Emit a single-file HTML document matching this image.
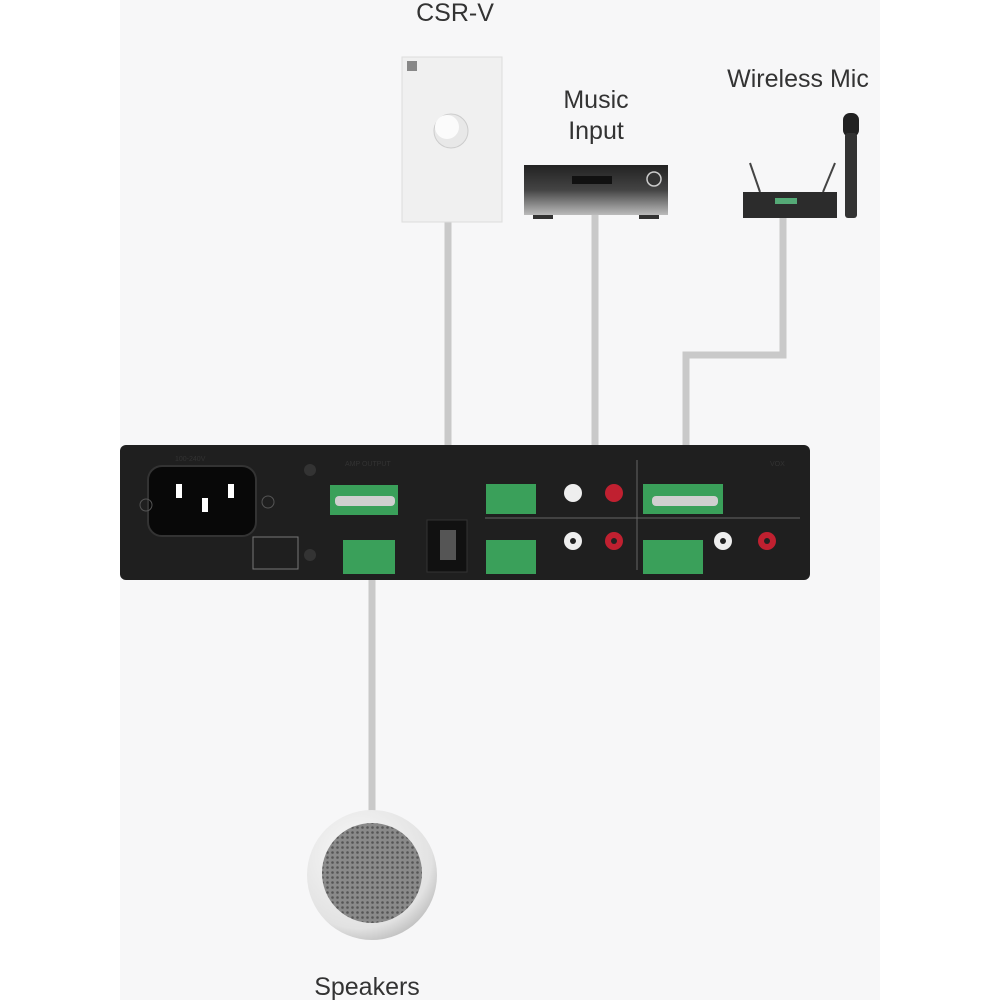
<!DOCTYPE html>
<html><head><meta charset="utf-8"><style>
html,body{margin:0;padding:0;background:#fff;}
svg{display:block;}
text{font-family:"Liberation Sans",sans-serif;fill:#333;}
</style></head><body>
<svg width="1000" height="1000" viewBox="0 0 1000 1000" xmlns="http://www.w3.org/2000/svg">
<defs>
<pattern id="dots" width="5" height="5" patternUnits="userSpaceOnUse"><rect width="5" height="5" fill="#8a8a8a"/><circle cx="2.5" cy="2.5" r="1.3" fill="#555"/></pattern>
<radialGradient id="rim" cx="0.4" cy="0.35" r="0.7"><stop offset="0" stop-color="#fafafa"/><stop offset="0.8" stop-color="#e2e2e2"/><stop offset="1" stop-color="#bdbdbd"/></radialGradient>
<linearGradient id="rcv" x1="0" y1="0" x2="0" y2="1"><stop offset="0" stop-color="#222"/><stop offset="0.5" stop-color="#444"/><stop offset="1" stop-color="#bbb"/></linearGradient>
</defs>
<rect x="120" y="0" width="760" height="1000" fill="#f7f7f8"/>
<text x="455" y="21" font-size="25" text-anchor="middle">CSR-V</text>
<text x="596" y="108" font-size="25" text-anchor="middle">Music</text>
<text x="596" y="139" font-size="25" text-anchor="middle">Input</text>
<text x="798" y="87" font-size="25" text-anchor="middle">Wireless Mic</text>
<text x="367" y="995" font-size="25" text-anchor="middle">Speakers</text>
<!-- cables -->
<g stroke="#c9c9c9" stroke-width="7" fill="none">
<path d="M448 222 V540"/>
<path d="M595 215 V493 H575"/>
<path d="M783 215 V355 H686 V500"/>
<path d="M372 500 V815"/>
</g>
<!-- CSR-V plate -->
<rect x="402" y="57" width="100" height="165" fill="#f0f0f0" stroke="#ddd"/>
<rect x="407" y="61" width="10" height="10" fill="#888"/>
<circle cx="451" cy="131" r="17" fill="#e8e8e8" stroke="#ccc"/>
<circle cx="447" cy="127" r="12" fill="#fbfbfb"/>
<!-- receiver -->
<rect x="524" y="165" width="144" height="50" fill="url(#rcv)"/>
<rect x="572" y="176" width="40" height="8" fill="#111"/>
<circle cx="654" cy="179" r="7" fill="#333" stroke="#ccc" stroke-width="1.5"/>
<rect x="533" y="215" width="20" height="4" fill="#333"/><rect x="639" y="215" width="20" height="4" fill="#333"/>
<!-- wireless -->
<line x1="750" y1="163" x2="760" y2="192" stroke="#444" stroke-width="2"/>
<line x1="835" y1="163" x2="823" y2="192" stroke="#444" stroke-width="2"/>
<rect x="743" y="192" width="94" height="26" fill="#2c2c2c"/>
<rect x="775" y="198" width="22" height="6" fill="#5a7"/>
<rect x="843" y="113" width="16" height="24" rx="7" fill="#222"/>
<rect x="845" y="133" width="12" height="85" rx="3" fill="#333"/>
<!-- amp -->
<rect x="120" y="445" width="690" height="135" rx="6" fill="#1f1f1f"/>
<rect x="148" y="466" width="108" height="70" rx="14" fill="#080808" stroke="#333" stroke-width="2"/>
<rect x="176" y="484" width="6" height="14" fill="#fff"/><rect x="228" y="484" width="6" height="14" fill="#fff"/><rect x="202" y="498" width="6" height="14" fill="#fff"/>
<circle cx="146" cy="505" r="6" fill="none" stroke="#555"/><circle cx="268" cy="502" r="6" fill="none" stroke="#555"/>
<circle cx="310" cy="470" r="6" fill="#333"/><circle cx="310" cy="555" r="6" fill="#333"/>
<g fill="#3aa05a"><rect x="330" y="485" width="68" height="30"/><rect x="343" y="540" width="52" height="34"/>
<rect x="486" y="484" width="50" height="30"/><rect x="486" y="540" width="50" height="34"/>
<rect x="643" y="484" width="80" height="30"/><rect x="643" y="540" width="60" height="34"/></g>
<rect x="335" y="496" width="60" height="10" rx="4" fill="#cfcfcf"/>
<rect x="652" y="496" width="66" height="10" rx="4" fill="#cfcfcf"/>
<rect x="427" y="520" width="40" height="52" fill="#111" stroke="#333"/>
<rect x="440" y="530" width="16" height="30" fill="#555"/>
<circle cx="573" cy="493" r="9" fill="#eee"/><circle cx="614" cy="493" r="9" fill="#c02030"/>
<circle cx="573" cy="541" r="9" fill="#eee"/><circle cx="573" cy="541" r="3" fill="#222"/>
<circle cx="614" cy="541" r="9" fill="#c02030"/><circle cx="614" cy="541" r="3" fill="#222"/>
<circle cx="723" cy="541" r="9" fill="#eee"/><circle cx="723" cy="541" r="3" fill="#222"/>
<circle cx="767" cy="541" r="9" fill="#c02030"/><circle cx="767" cy="541" r="3" fill="#222"/>
<line x1="485" y1="518" x2="800" y2="518" stroke="#666"/>
<line x1="637" y1="460" x2="637" y2="570" stroke="#666"/>
<rect x="253" y="537" width="45" height="32" fill="none" stroke="#777"/>
<g fill="#bbb" font-size="7"><text x="175" y="461" fill="#bbb">100-240V</text><text x="345" y="466" fill="#bbb">AMP OUTPUT</text><text x="770" y="466" fill="#bbb">VOX</text></g>
<!-- speaker -->
<circle cx="372" cy="875" r="65" fill="url(#rim)"/>
<circle cx="372" cy="873" r="50" fill="url(#dots)"/>
</svg>
</body></html>
